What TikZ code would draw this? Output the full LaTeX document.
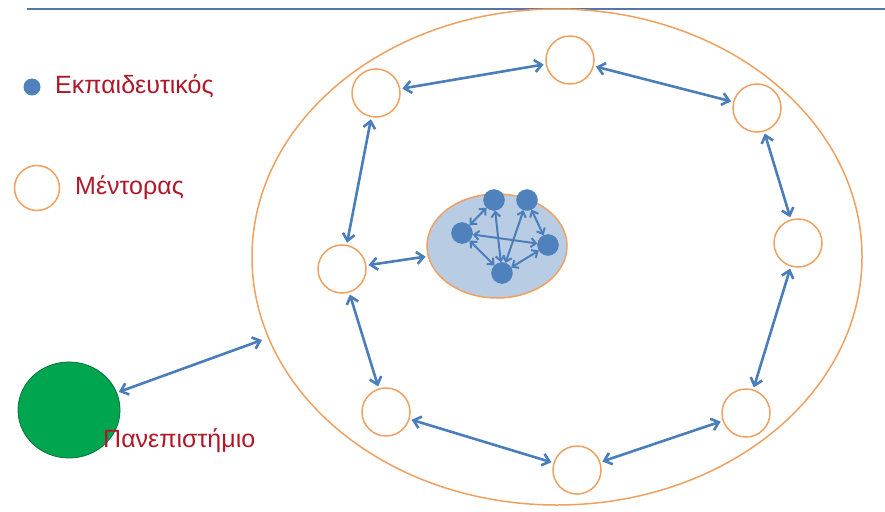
\documentclass[tikz,border=0pt]{standalone}
\usepackage{fontspec}
\setmainfont{Liberation Sans}
\usetikzlibrary{arrows.meta,shapes.geometric}
\definecolor{ora}{HTML}{F0A060}
\definecolor{arr}{HTML}{4A7EBB}
\definecolor{dotc}{HTML}{4F81BD}
\definecolor{lbl}{HTML}{B0182A}
\definecolor{grn}{HTML}{00A550}
\definecolor{ctr}{HTML}{B8CCE4}
\definecolor{topl}{HTML}{5577A8}
\tikzset{
  mentor/.style={circle,draw=ora,line width=1.5pt,fill=white,minimum size=48pt,inner sep=0pt},
  teach/.style={circle,fill=dotc,draw=arr,minimum size=21pt,inner sep=0pt},
  link/.style={draw=arr,line width=2.6pt,{Straight Barb[length=7pt,width=12pt]}-{Straight Barb[length=7pt,width=12pt]},shorten >=2pt,shorten <=2pt},
  ilink/.style={draw=arr,line width=2pt,{Straight Barb[length=5pt,width=9pt]}-{Straight Barb[length=5pt,width=9pt]}},
  lbltext/.style={text=lbl,font=\fontsize{25}{28}\selectfont,inner sep=0pt,anchor=west}
}
\begin{document}
\begin{tikzpicture}[x=1pt,y=-1pt]
\useasboundingbox (0,0) rectangle (885,511);
\fill[white] (0,0) rectangle (885,511);
\draw[topl,line width=2pt] (27,9) -- (885,9);
% big circle
\node[ellipse,draw=ora,line width=1.5pt,minimum width=610pt,minimum height=496pt,inner sep=0pt] (big) at (557,257) {};
% center group
\node[ellipse,draw=ora,line width=1.5pt,fill=ctr,minimum width=140pt,minimum height=104pt,inner sep=0pt] (ctr) at (497,246) {};
% mentors
\node[mentor] (m1) at (570,60) {};
\node[mentor] (m2) at (376,93) {};
\node[mentor] (m3) at (757,108) {};
\node[mentor] (m4) at (798,243) {};
\node[mentor] (m5) at (342,269) {};
\node[mentor] (m6) at (386,412) {};
\node[mentor] (m7) at (746,413) {};
\node[mentor] (m8) at (577,470) {};
% teachers
\node[teach] (a) at (462,233) {};
\node[teach] (b) at (494,200) {};
\node[teach] (c) at (527,200) {};
\node[teach] (d) at (548,245) {};
\node[teach] (e) at (502,273) {};
% inner links
\draw[ilink] (a) -- (b);
\draw[ilink] (a) -- (d);
\draw[ilink] (a) -- (e);
\draw[ilink] (e) -- (b);
\draw[ilink] (e) -- (c);
\draw[ilink] (c) -- (d);
\draw[ilink] (e) -- (d);
% ring links
\draw[link] (m2) -- (m1);
\draw[link] (m1) -- (m3);
\draw[link] (m3) -- (m4);
\draw[link] (m4) -- (m7);
\draw[link] (m7) -- (m8);
\draw[link] (m8) -- (m6);
\draw[link] (m6) -- (m5);
\draw[link] (m5) -- (m2);
\draw[link] (m5) -- (ctr);
% university
\node[ellipse,fill=grn,draw=grn!70!black,line width=0.8pt,minimum width=102pt,minimum height=96pt,inner sep=0pt] (uni) at (69,410) {};
\coordinate (bigw) at (262,340);
\draw[link,shorten >=0pt] (uni) -- (bigw);
\node[lbltext] (unil) at (103,441) {Πανεπιστήμιο};
% legend
\node[circle,fill=dotc,minimum size=17pt,inner sep=0pt] (lg1) at (32,87) {};
\node[lbltext] (lg1t) at (55,86) {Εκπαιδευτικός};
\node[circle,draw=ora,line width=1.5pt,minimum size=45pt,inner sep=0pt] (lg2) at (37,188) {};
\node[lbltext] (lg2t) at (75,188) {Μέντορας};
\end{tikzpicture}
\end{document}
